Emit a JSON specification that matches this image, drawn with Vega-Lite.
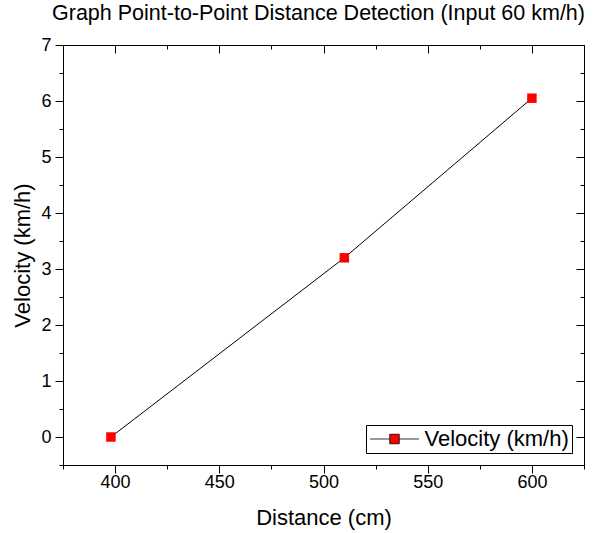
{
  "$schema": "https://vega.github.io/schema/vega-lite/v6.json",
  "width": 521,
  "height": 420,
  "autosize": "none",
  "padding": {"left": 63, "top": 45, "right": 10, "bottom": 68},
  "background": "white",
  "title": {"text": "Graph Point-to-Point Distance Detection (Input 60 km/h)", "font": "Liberation Sans", "fontSize": 21.5, "fontWeight": "normal", "color": "black", "anchor": "middle", "offset": 12, "dx": -5},
  "config": {
    "view": {"stroke": null},
    "axis": {"domainColor": "black", "tickColor": "black", "labelColor": "black", "titleColor": "black", "labelFont": "Liberation Sans", "titleFont": "Liberation Sans", "titleFontWeight": "normal", "grid": false, "labelFontSize": 18, "titleFontSize": 22, "domainWidth": 1, "tickWidth": 1}
  },
  "data": {"values": [
    {"distance": 398, "velocity": 0, "series": "Velocity (km/h)"},
    {"distance": 510, "velocity": 3.2, "series": "Velocity (km/h)"},
    {"distance": 600, "velocity": 6.05, "series": "Velocity (km/h)"}
  ]},
  "layer": [
    {
      "mark": {"type": "line", "color": "black", "strokeWidth": 1},
      "encoding": {
        "x": {"field": "distance", "type": "quantitative", "scale": {"domain": [375, 625], "nice": false, "zero": false},
          "axis": {"orient": "bottom", "title": "Distance (cm)", "values": [400, 450, 500, 550, 600], "format": "d",
            "tickSize": 8, "labelPadding": 0, "titlePadding": 16}},
        "y": {"field": "velocity", "type": "quantitative", "scale": {"domain": [-0.5, 7], "nice": false, "zero": false},
          "axis": {"orient": "left", "title": "Velocity (km/h)", "values": [0, 1, 2, 3, 4, 5, 6, 7], "format": "d",
            "tickSize": 8, "labelPadding": 4, "titlePadding": 6}}
      }
    },
    {
      "mark": {"type": "point", "shape": "square", "filled": true, "size": 90, "opacity": 0, "strokeWidth": 0},
      "encoding": {
        "x": {"field": "distance", "type": "quantitative",
          "axis": {"orient": "bottom", "title": null, "labels": false, "domain": false, "values": [375, 425, 475, 525, 575, 625], "tickSize": 4}},
        "y": {"field": "velocity", "type": "quantitative",
          "axis": {"orient": "left", "title": null, "labels": false, "domain": false, "values": [-0.5, 0.5, 1.5, 2.5, 3.5, 4.5, 5.5, 6.5], "tickSize": 4}}
      }
    },
    {
      "mark": {"type": "point", "shape": "square", "filled": true, "size": 90, "opacity": 0, "strokeWidth": 0},
      "encoding": {
        "x": {"field": "distance", "type": "quantitative",
          "axis": {"orient": "bottom", "offset": -420, "title": null, "labels": false, "domain": true, "values": [400, 450, 500, 550, 600], "tickSize": 8}},
        "y": {"field": "velocity", "type": "quantitative",
          "axis": {"orient": "left", "offset": -521, "title": null, "labels": false, "domain": true, "values": [0, 1, 2, 3, 4, 5, 6, 7], "tickSize": 8}}
      }
    },
    {
      "mark": {"type": "point", "shape": "square", "filled": true, "size": 90, "opacity": 1, "strokeWidth": 0},
      "encoding": {
        "x": {"field": "distance", "type": "quantitative",
          "axis": {"orient": "bottom", "offset": -420, "title": null, "labels": false, "domain": false, "values": [375, 425, 475, 525, 575, 625], "tickSize": 4}},
        "y": {"field": "velocity", "type": "quantitative",
          "axis": {"orient": "left", "offset": -521, "title": null, "labels": false, "domain": false, "values": [-0.5, 0.5, 1.5, 2.5, 3.5, 4.5, 5.5, 6.5], "tickSize": 4}},
        "fill": {"field": "series", "type": "nominal", "scale": {"range": ["#ff0000"]},
          "legend": {"title": null, "orient": "bottom-right", "offset": 12, "padding": 3, "strokeColor": "black", "fillColor": "white",
            "labelFont": "Liberation Sans", "labelFontSize": 22, "labelColor": "black", "labelOffset": 19, "symbolOffset": 14.5,
            "symbolType": "M-2.45,0H-0.475M0.475,0H2.45M-0.475,-0.475H0.475V0.475H-0.475Z", "symbolSize": 400,
            "symbolStrokeColor": "black", "symbolStrokeWidth": 0.8, "symbolFillColor": "#ff0000",
            "encode": {"symbols": {"update": {"stroke": {"value": "black"}, "strokeWidth": {"value": 0.8}, "fill": {"value": "#ff0000"}}}}}}
      }
    }
  ],
  "resolve": {"axis": {"x": "independent", "y": "independent"}}
}
